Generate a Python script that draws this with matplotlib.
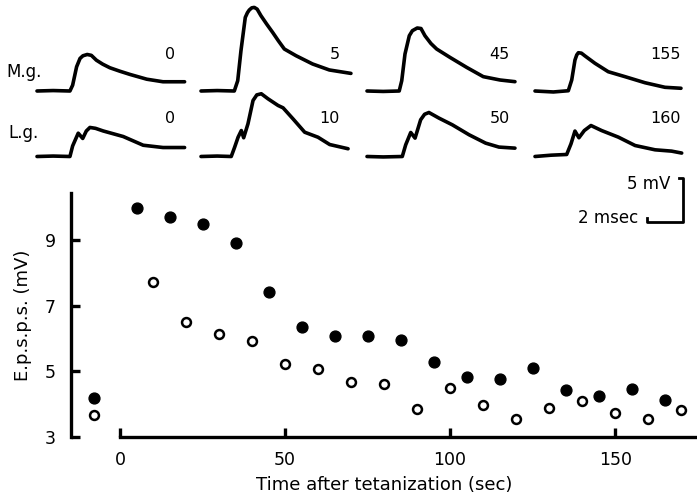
import matplotlib
matplotlib.use("Agg")
import matplotlib.pyplot as plt

plt.rcParams["font.family"] = ["DejaVu Sans"]

# e.p.s.p. amplitudes (mV) vs time after tetanization (sec)
t_mg = [-8, 5, 15, 25, 35, 45, 55, 65, 75, 85, 95, 105, 115, 125, 135, 145, 155, 165]
v_mg = [4.2, 9.96, 9.69, 9.49, 8.9, 7.42, 6.35, 6.07, 6.08, 5.94, 5.29, 4.83, 4.76,
        5.09, 4.43, 4.26, 4.45, 4.13]
t_lg = [-8, 10, 20, 30, 40, 50, 60, 70, 80, 90, 100, 110, 120, 130, 140, 150, 160, 170]
v_lg = [3.68, 7.71, 6.51, 6.15, 5.93, 5.22, 5.08, 4.69, 4.61, 3.85, 4.48, 3.96, 3.55,
        3.87, 4.10, 3.74, 3.55, 3.82]

# sample records (ms, mV)
mg_labels = ["0", "5", "45", "155"]
mg_ms = [
    [0, 0.9, 1.83, 1.98, 2.2, 2.39, 2.55, 2.79, 3.02, 3.3, 3.65, 4.05, 4.6, 5.17, 6.1,
     7.0, 8.2],
    [0, 0.9, 1.85, 2.04, 2.22, 2.46, 2.58, 2.68, 2.82, 2.96, 3.12, 3.33, 3.65, 3.98,
     4.3, 4.63, 5.28, 6.2, 7.13, 8.33],
    [0, 0.9, 1.79, 1.93, 2.11, 2.35, 2.52, 2.79, 3.0, 3.22, 3.55, 3.87, 4.61, 5.54,
     6.46, 7.39, 8.22],
    [0, 1.02, 1.85, 2.04, 2.22, 2.32, 2.41, 2.58, 2.78, 3.33, 4.07, 5.0, 6.11, 7.22,
     8.11],
]
mg_mv = [
    [0, 0.05, 0, 0.66, 2.75, 3.7, 4.0, 4.15, 4.05, 3.5, 3.05, 2.64, 2.25, 1.88, 1.34,
     1.05, 1.05],
    [0, 0.05, 0, 1.17, 4.58, 8.36, 8.9, 9.2, 9.45, 9.5, 9.3, 8.56, 7.6, 6.66, 5.7, 4.77,
     4.01, 3.07, 2.39, 2.0],
    [0, -0.05, 0, 1.17, 4.2, 6.28, 6.85, 7.16, 7.1, 6.28, 5.4, 4.77, 3.82, 2.68, 1.63,
     1.25, 1.06],
    [0, -0.11, 0.03, 1.25, 3.52, 4.1, 4.35, 4.3, 3.98, 3.15, 2.19, 1.63, 0.94, 0.42,
     0.31],
]
lg_labels = ["0", "10", "50", "160"]
lg_ms = [
    [0, 0.9, 1.83, 1.98, 2.29, 2.54, 2.74, 2.94, 3.25, 3.68, 4.79, 5.9, 7.0, 8.2],
    [0, 0.9, 1.68, 1.87, 2.06, 2.24, 2.37, 2.61, 2.89, 3.1, 3.35, 3.72, 4.28, 4.56,
     5.11, 5.76, 6.5, 7.15, 8.17],
    [0, 0.9, 1.96, 2.15, 2.43, 2.67, 2.98, 3.2, 3.44, 4.0, 4.74, 5.67, 6.59, 7.33,
     8.22],
    [0, 0.9, 1.76, 2.0, 2.22, 2.44, 2.74, 3.11, 3.7, 4.63, 5.56, 6.67, 7.59, 8.15],
]
lg_mv = [
    [0, 0.05, 0, 1.2, 2.65, 2.05, 2.9, 3.3, 3.2, 2.9, 2.27, 1.28, 1.02, 1.02],
    [0, 0.05, 0, 1.06, 2.19, 2.95, 2.13, 3.72, 6.36, 7.0, 7.13, 6.56, 5.8, 5.53, 4.28,
     2.76, 2.19, 1.36, 0.88],
    [0, -0.05, 0, 1.33, 2.73, 2.09, 4.17, 4.8, 5.0, 4.36, 3.6, 2.47, 1.52, 1.07, 0.95],
    [0, 0.15, 0.23, 1.44, 2.89, 2.13, 2.95, 3.52, 2.95, 2.2, 1.25, 0.76, 0.61, 0.39],
]

W, H = 697, 498
fig = plt.figure(figsize=(W / 100, H / 100), dpi=100)

# --- graph ---
ax = fig.add_axes([71 / W, (H - 437) / H, (W - 71) / W, (437 - 193) / H])
ax.plot(t_mg, v_mg, "o", color="black", ms=7.8, clip_on=False)
ax.plot(t_lg, v_lg, "o", mfc="white", mec="black", ms=6.4, mew=1.8, clip_on=False)
ax.set_xlim(-14.85, 174.8)
ax.set_ylim(3, 10.43)
for s in ["top", "right"]:
    ax.spines[s].set_visible(False)
for s in ["left", "bottom"]:
    ax.spines[s].set_linewidth(2.4)
ax.spines["bottom"].set_bounds(0, 174.8)
ax.set_xticks([0, 50, 100, 150])
ax.set_yticks([3, 5, 7, 9])
ax.tick_params(direction="in", length=6.5, width=2.4, labelsize=12.5)
ax.tick_params(axis="x", pad=10)
ax.tick_params(axis="y", pad=11)
ax.set_xlabel("Time after tetanization (sec)", fontsize=13, labelpad=5)
ax.set_ylabel("E.p.s.p.s. (mV)", fontsize=13, labelpad=9)

# --- sample records, drawn in pixel space ---
ov = fig.add_axes([0, 0, 1, 1])
ov.set_xlim(0, W)
ov.set_ylim(H, 0)
ov.axis("off")
PX_MS, PX_MV = 18.0, 8.8
x0 = [37, 201, 367, 535]
lab_x = [175, 340, 510, 681]
for i in range(4):
    ov.plot([x0[i] + m * PX_MS for m in mg_ms[i]], [91 - v * PX_MV for v in mg_mv[i]],
            color="black", lw=2.6, solid_joinstyle="round", solid_capstyle="round")
    ov.plot([x0[i] + m * PX_MS for m in lg_ms[i]], [156.5 - v * PX_MV for v in lg_mv[i]],
            color="black", lw=2.6, solid_joinstyle="round", solid_capstyle="round")
    ov.text(lab_x[i], 54, mg_labels[i], ha="right", va="center", fontsize=11.5)
    ov.text(lab_x[i], 118, lg_labels[i], ha="right", va="center", fontsize=11.5)
ov.text(6, 72, "M.g.", ha="left", va="center", fontsize=12)
ov.text(8, 133, "L.g.", ha="left", va="center", fontsize=12)

# calibration: 5 mV, 2 msec
bx, by = 683, 222
ov.plot([bx - 4, bx, bx, bx - 2 * PX_MS, bx - 2 * PX_MS],
        [by - 5 * PX_MV, by - 5 * PX_MV, by, by, by - 4],
        color="black", lw=2.0)
ov.text(670, 184, "5 mV", ha="right", va="center", fontsize=12)
ov.text(638, 218, "2 msec", ha="right", va="center", fontsize=12)

fig.savefig("out.png", dpi=100)
